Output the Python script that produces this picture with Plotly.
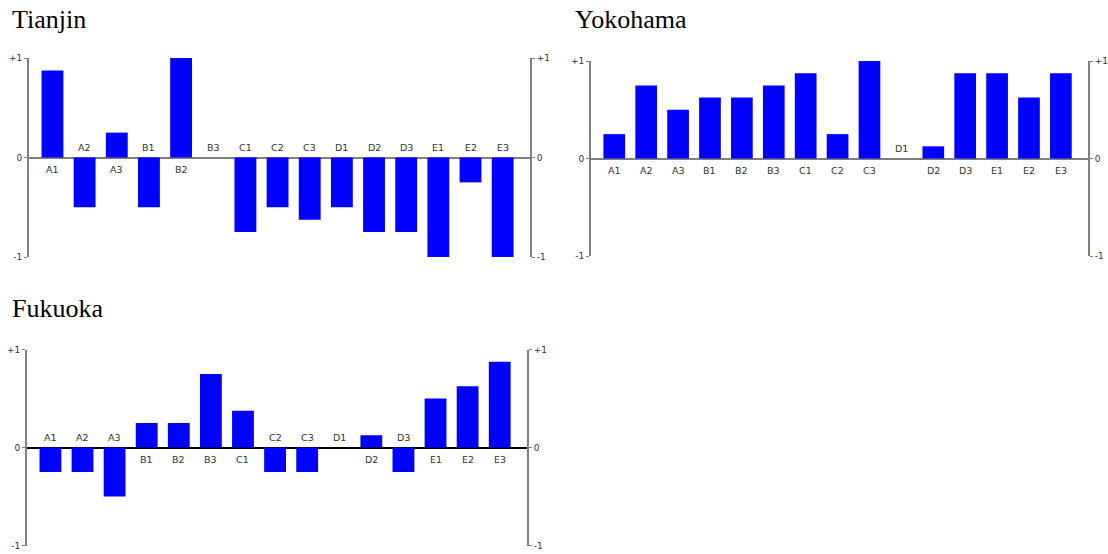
import plotly.graph_objects as go

categories = ["A1", "A2", "A3", "B1", "B2", "B3", "C1", "C2", "C3",
              "D1", "D2", "D3", "E1", "E2", "E3"]

tianjin = [0.875, -0.5, 0.25, -0.5, 1.0, 0.0, -0.75, -0.5, -0.625,
           -0.5, -0.75, -0.75, -1.0, -0.25, -1.0]
yokohama = [0.25, 0.75, 0.5, 0.625, 0.625, 0.75, 0.875, 0.25, 1.0,
            0.0, 0.125, 0.875, 0.875, 0.625, 0.875]
fukuoka = [-0.25, -0.25, -0.5, 0.25, 0.25, 0.75, 0.375, -0.25, -0.25,
           0.0, 0.125, -0.25, 0.5, 0.625, 0.875]

tick_vals = [-1, 0, 1]
tick_text = ["-1", "0", "+1"]

W, H = 1108, 554

panels = [
    # name, values, x0px, x1px, ytop px, ybot px, zeroline color, title x px, title y px
    ("Tianjin", tianjin, 29, 530, 58, 257, "#808080", 10, 19),
    ("Yokohama", yokohama, 591, 1088, 61, 256, "#808080", 573, 19),
    ("Fukuoka", fukuoka, 27, 527, 349.5, 545.5, "#000000", 10, 308),
]

fig = go.Figure()
layout = dict(
    width=W, height=H, margin=dict(l=0, r=0, t=0, b=0, autoexpand=False),
    paper_bgcolor="white", plot_bgcolor="white", showlegend=False,
    annotations=[],
)

for i, (name, vals, x0, x1, yt, yb, zc, tx, ty) in enumerate(panels):
    n = i + 1
    xa = "x" if n == 1 else f"x{n}"
    ya = "y" if n == 1 else f"y{2*n-1}"
    ya_r = f"y{2*n}"
    xkey = "xaxis" if n == 1 else f"xaxis{n}"
    ykey = "yaxis" if n == 1 else f"yaxis{2*n-1}"
    yrkey = f"yaxis{2*n}"

    fig.add_trace(go.Bar(
        x=categories, y=vals, xaxis=xa, yaxis=ya, width=0.68,
        marker=dict(color="#0000ff", line=dict(width=0)),
        hoverinfo="x+y",
    ))
    fig.add_trace(go.Scatter(x=[categories[0]], y=[0], xaxis=xa, yaxis=ya_r,
                             mode="markers", marker=dict(opacity=0),
                             hoverinfo="skip"))

    layout[xkey] = dict(
        domain=[x0 / W, x1 / W], anchor=ya, type="category",
        categoryorder="array", categoryarray=categories,
        range=[-0.73, 14.85], showticklabels=False, showline=False,
        showgrid=False, zeroline=False, ticks="", automargin=False,
    )
    common = dict(
        range=[-1, 1], tickvals=tick_vals, ticktext=tick_text,
        ticks="outside", ticklen=3, tickwidth=1, tickcolor="#808080",
        showline=True, linecolor="#808080", linewidth=2,
        showgrid=False, automargin=False,
        tickfont=dict(family="DejaVu Sans", size=9, color="#333333"),
    )
    layout[ykey] = dict(
        domain=[1 - yb / H, 1 - yt / H], anchor=xa, side="left",
        zeroline=True, zerolinecolor=zc, zerolinewidth=2, **common,
    )
    layout[yrkey] = dict(
        overlaying=ya, anchor=xa, side="right", zeroline=False, **common,
    )

    for c, v in zip(categories, vals):
        layout["annotations"].append(dict(
            x=c, y=0, xref=xa, yref=ya, text=c, showarrow=False,
            yshift=(-12 if v > 0 else 10),
            font=dict(family="DejaVu Sans", size=9.5, color="#333333"),
        ))
    layout["annotations"].append(dict(
        x=tx / W, y=1 - ty / H, xref="paper", yref="paper", text=name,
        showarrow=False, xanchor="left", yanchor="middle",
        font=dict(family="Liberation Serif", size=26, color="#000000"),
    ))

fig.update_layout(**layout)
fig.write_html(
    "out.html",
    config={"displayModeBar": False},
    post_script="document.body.style.margin='0';document.body.style.overflow='hidden';",
)
